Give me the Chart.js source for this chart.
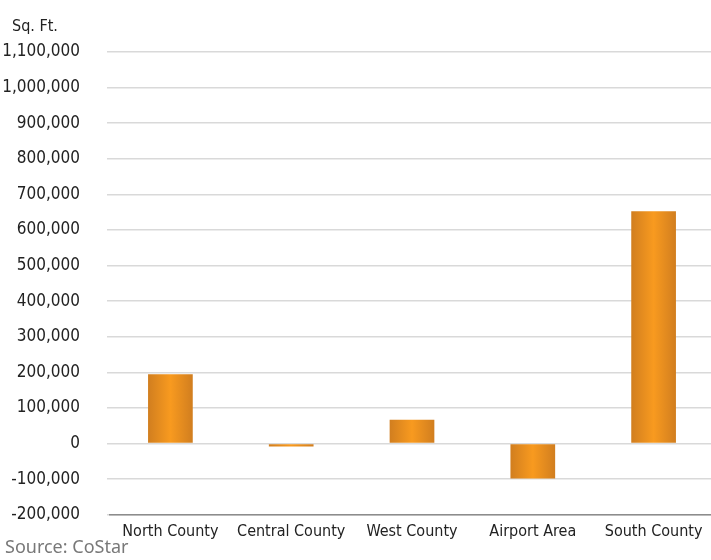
<!DOCTYPE html>
<html>
<head>
<meta charset="utf-8">
<script src="https://cdn.jsdelivr.net/npm/chart.js@4/dist/chart.umd.min.js"></script>
<style>
  html, body { margin: 0; padding: 0; background: #ffffff; }
  #wrap { width: 711px; height: 560px; position: relative; }
</style>
</head>
<body>
<div id="wrap"><canvas id="c" width="711" height="560"></canvas></div>
<script>
const categories = ['North County', 'Central County', 'West County', 'Airport Area', 'South County'];
const absorption = [195000, -8000, 67000, -98000, 653000];
const yMin = -200000;
const yMax = 1100000;
const yStep = 100000;
const yTitle = 'Sq. Ft.';
const sourceNote = 'Source: CoStar';

const condensed = "'DejaVu Sans Condensed', 'Liberation Sans Narrow', sans-serif";
const BAR_PCT = 0.37;

function barGradient(ctx) {
  const chart = ctx.chart;
  const xs = chart.scales && chart.scales.x;
  if (!chart.chartArea || !xs || ctx.dataIndex === undefined) return '#f0921f';
  const cx = xs.getPixelForValue(ctx.dataIndex);
  const w = (xs.width / categories.length) * BAR_PCT;
  const g = chart.ctx.createLinearGradient(cx - w / 2, 0, cx + w / 2, 0);
  g.addColorStop(0, '#d17e1f');
  g.addColorStop(0.5, '#f89a1f');
  g.addColorStop(1, '#d17e1f');
  return g;
}

// plot area in the original runs a few pixels past the right edge of the image
const extendRight = {
  id: 'extendRight',
  afterLayout(chart) {
    const xs = chart.scales.x;
    const r = chart.width + 3;
    xs.right = r;
    xs.width = r - xs.left;
    chart.chartArea.right = r;
    chart.chartArea.width = r - chart.chartArea.left;
    if (typeof xs.configure === 'function') xs.configure();
  }
};

const textPlugin = {
  id: 'texts',
  afterDraw(chart) {
    const c = chart.ctx;
    c.save();
    c.textBaseline = 'middle';
    c.textAlign = 'left';
    c.fillStyle = '#222222';
    c.font = "16px " + condensed;
    c.fillText(yTitle, 12, 27);
    c.fillStyle = '#787878';
    c.font = "18px 'Noto Sans', sans-serif";
    c.fillText(sourceNote, 5, 548);
    c.restore();
  }
};

new Chart(document.getElementById('c'), {
  type: 'bar',
  data: {
    labels: categories,
    datasets: [{
      data: absorption,
      backgroundColor: barGradient,
      borderWidth: 0,
      categoryPercentage: 1,
      barPercentage: BAR_PCT
    }]
  },
  options: {
    responsive: false,
    animation: false,
    layout: { padding: { top: 52, right: 0, bottom: 12, left: 0 } },
    plugins: { legend: { display: false }, tooltip: { enabled: false } },
    scales: {
      x: {
        grid: { display: false, drawTicks: false },
        border: { display: true, color: '#8c8c8c', width: 1.5 },
        ticks: { color: '#222222', font: { family: condensed, size: 16 }, padding: 7, maxRotation: 0, autoSkip: false }
      },
      y: {
        min: yMin,
        max: yMax,
        afterFit: s => { s.width = 110; },
        grid: { color: '#d9d9d9', lineWidth: 1.5, tickLength: 3, drawTicks: true },
        border: { display: false },
        ticks: {
          stepSize: yStep,
          color: '#222222',
          padding: 27,
          font: { family: condensed, size: 17 },
          callback: v => Number(v).toLocaleString('en-US')
        }
      }
    }
  },
  plugins: [extendRight, textPlugin]
});
</script>
</body>
</html>
